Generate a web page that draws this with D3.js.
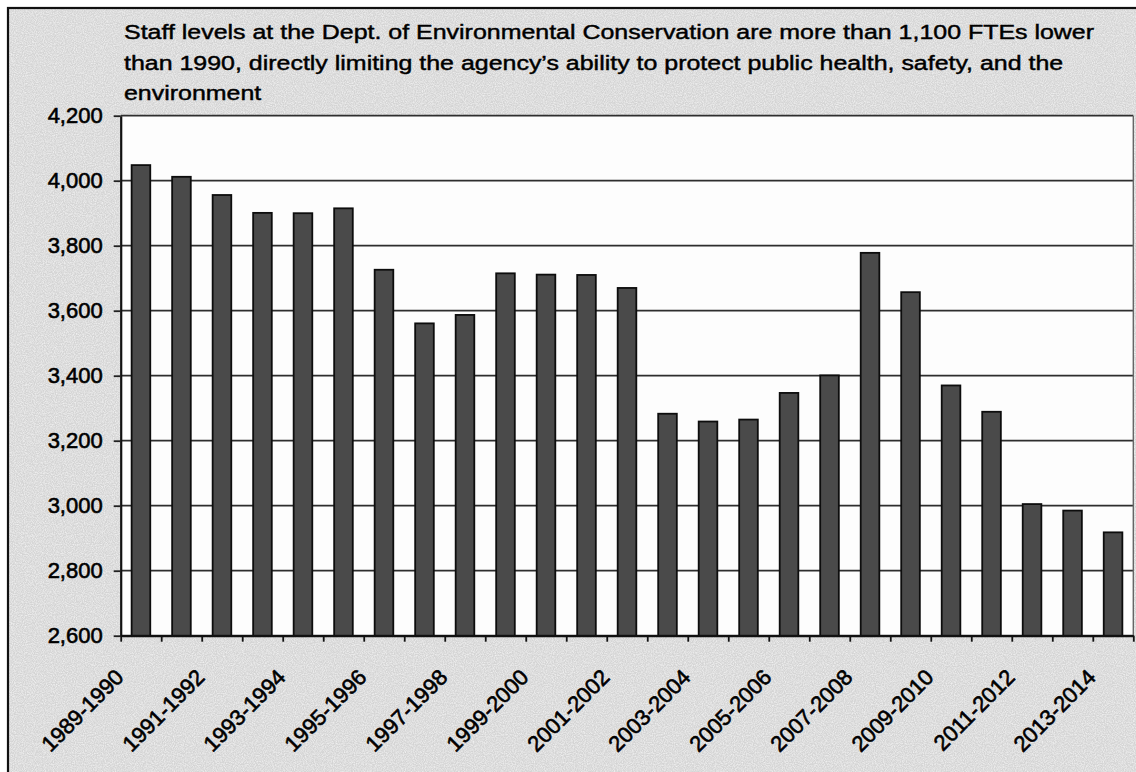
<!DOCTYPE html>
<html><head><meta charset="utf-8">
<script src="https://cdn.jsdelivr.net/npm/d3@7"></script>
<style>
body{margin:0;background:#fff}
svg{display:block}
text{font-family:Arial,"Liberation Sans",sans-serif;fill:#000}
</style>
</head><body>
<svg id="c" width="1136" height="772"></svg>
<script>
// ---- data ----
const categories = ["1989-1990","1990-1991","1991-1992","1992-1993","1993-1994","1994-1995",
  "1995-1996","1996-1997","1997-1998","1998-1999","1999-2000","2000-2001","2001-2002",
  "2002-2003","2003-2004","2004-2005","2005-2006","2006-2007","2007-2008","2008-2009",
  "2009-2010","2010-2011","2011-2012","2012-2013","2013-2014"];
const staffFTEs = [4048,4012,3956,3901,3900,3915,3726,3561,3587,3715,3711,3710,3670,
  3283,3259,3265,3347,3401,3778,3657,3370,3289,3005,2985,2918];
const yTickValues = [2600,2800,3000,3200,3400,3600,3800,4000,4200];
const xLabelCategories = categories.filter((d,i)=>i%2===0);
const titleLines = [
  "Staff levels at the Dept. of Environmental Conservation are more than 1,100 FTEs lower",
  "than 1990, directly limiting the agency\u2019s ability to protect public health, safety, and the",
  "environment"];

// ---- layout ----
const svg = d3.select("#c");
const L = 120.7, R = 1133.3, T = 115.7, B = 635.7;

// background (scanned gray) with a light noise texture
const defs = svg.append("defs");
const f = defs.append("filter").attr("id","noise").attr("x",0).attr("y",0).attr("width","100%").attr("height","100%");
f.append("feTurbulence").attr("type","fractalNoise").attr("baseFrequency",0.9).attr("numOctaves",2).attr("seed",3).attr("result","n");
f.append("feColorMatrix").attr("in","n").attr("type","matrix")
  .attr("values","0 0 0 0 1  0 0 0 0 1  0 0 0 0 1  0 0 0 -1.1 0.75").attr("result","w");
f.append("feComposite").attr("in","w").attr("in2","SourceGraphic").attr("operator","in").attr("result","wm");
f.append("feMerge").selectAll("feMergeNode").data(["SourceGraphic","wm"]).join("feMergeNode").attr("in",d=>d);

svg.append("rect").attr("x",8).attr("y",8).attr("width",1140).attr("height",780)
  .attr("fill","#d4d4d4").attr("filter","url(#noise)");
svg.append("rect").attr("x",8).attr("y",8).attr("width",1140).attr("height",780)
  .attr("fill","none").attr("stroke","#111").attr("stroke-width",2.2);

// plot area
svg.append("rect").attr("x",L).attr("y",T).attr("width",R-L).attr("height",B-T).attr("fill","#fdfdfd");

const x = d3.scaleBand().domain(categories).range([L,R]).paddingInner(0.54).paddingOuter(0.27);
const xb = d3.scaleLinear().domain([0,categories.length]).range([L,R]);
const y = d3.scaleLinear().domain([2600,4200]).range([B,T]);

// gridlines
svg.append("g").selectAll("line").data(yTickValues).join("line")
  .attr("x1",L).attr("x2",R).attr("y1",d=>y(d)).attr("y2",d=>y(d))
  .attr("stroke","#2e2e2e").attr("stroke-width",1.8);
// right border of plot
svg.append("line").attr("x1",R).attr("x2",R).attr("y1",T).attr("y2",B).attr("stroke","#666").attr("stroke-width",1.4);

// bars
svg.append("g").selectAll("rect").data(staffFTEs).join("rect")
  .attr("x",(d,i)=>x(categories[i]))
  .attr("width",x.bandwidth())
  .attr("y",d=>y(d))
  .attr("height",d=>B-y(d))
  .attr("fill","#4a4a4a").attr("stroke","#0d0d0d").attr("stroke-width",1.8);

// y axis
const yAxis = svg.append("g").attr("transform",`translate(${L},0)`)
  .call(d3.axisLeft(y).tickValues(yTickValues).tickFormat(d3.format(",")).tickSizeInner(7).tickSizeOuter(0).tickPadding(11));
yAxis.select(".domain").attr("stroke","#111").attr("stroke-width",2.2);
yAxis.selectAll(".tick line").attr("stroke","#222").attr("stroke-width",1.8);
yAxis.selectAll("text").attr("font-size",22).attr("fill","#000").attr("stroke","#000").attr("stroke-width",0.6)
  .style("font-family","Arial, 'Liberation Sans', sans-serif");

// x axis: ticks at category boundaries
const xAxis = svg.append("g").attr("transform",`translate(0,${B})`)
  .call(d3.axisBottom(xb).tickValues(d3.range(categories.length+1)).tickFormat("").tickSizeInner(6).tickSizeOuter(0));
xAxis.select(".domain").attr("stroke","#111").attr("stroke-width",2.2);
xAxis.selectAll(".tick line").attr("stroke","#111").attr("stroke-width",1.8);

// x labels (every other category), rotated -45
svg.append("g").selectAll("text").data(xLabelCategories).join("text")
  .attr("transform",d=>`translate(${x(d)+x.bandwidth()/2-16},${B+43}) rotate(-45)`)
  .attr("text-anchor","end")
  .attr("font-size",22).attr("stroke","#000").attr("stroke-width",0.6)
  .text(d=>d);

// title (widened to the reference's line width)
const titleG = svg.append("g");
const tt = titleG.selectAll("text").data(titleLines).join("text")
  .attr("font-size",21).attr("stroke","#000").attr("stroke-width",0.45)
  .text(d=>d);
const len0 = tt.nodes()[0].getComputedTextLength();
const sx = 971 / len0;
tt.attr("transform",(d,i)=>`translate(124,${39+i*30.5}) scale(${sx},1)`);
</script>
</body></html>
